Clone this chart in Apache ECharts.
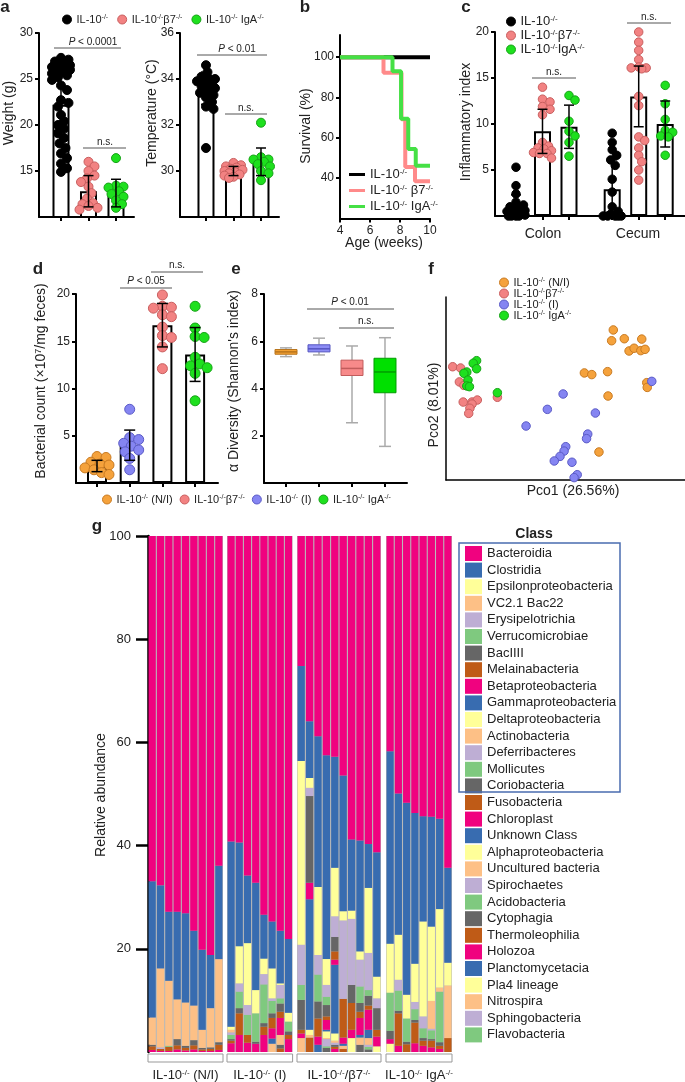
<!DOCTYPE html>
<html><head><meta charset="utf-8">
<script src="https://cdn.jsdelivr.net/npm/echarts@6/dist/echarts.min.js"></script>
<style>html,body{margin:0;padding:0;background:#fff}#c{width:685px;height:1082px}</style>
</head><body><div id="c"></div>
<script>
// ================= DATA =================
// panel a
const groupsA = ['IL-10^-/-^', 'IL-10^-/-^β7^-/-^', 'IL-10^-/-^ IgA^-/-^'];
const weightMeans = [22.2, 12.8, 12.6];
const weightSD = [4.0, 1.7, 1.5];
const weightWT = [27.3, 27.1, 26.9, 26.8, 26.5, 26.4, 26.3, 26.2, 26.1, 26.0, 25.8, 25.6, 25.4, 25.2, 24.9, 24.3, 23.8, 22.7, 22.4, 22.0, 21.1, 20.4, 20.0, 19.6, 19.1, 18.6, 18.0, 17.5, 16.9, 16.4, 15.8, 15.3, 14.9];
const weightB7 = [16.0, 15.5, 15.0, 14.5, 14.2, 13.8, 13.3, 12.6, 12.0, 11.5, 11.4, 11.2, 11.0, 10.8];
const weightIgA = [16.4, 13.4, 13.3, 13.2, 12.8, 12.5, 12.2, 11.8, 11.4, 11.0];
const tempMeans = [33.6, 30.0, 30.4];
const tempSD = [0.7, 0.2, 0.6];
const tempWT = [34.6, 34.3, 34.1, 34.0, 34.0, 33.9, 33.9, 33.8, 33.8, 33.7, 33.6, 33.5, 33.4, 33.3, 33.2, 33.0, 32.8, 32.7, 31.0];
const tempB7 = [30.35, 30.25, 30.2, 30.15, 30.1, 30.05, 30.0, 29.95, 29.9, 29.85, 29.8, 29.75, 29.7];
const tempIgA = [32.1, 30.6, 30.5, 30.5, 30.4, 30.3, 30.2, 30.0, 29.9, 29.6];
// panel b (survival, step curves)
const survNames = ['IL-10^-/-^', 'IL-10^-/-^ β7^-/-^', 'IL-10^-/-^ IgA^-/-^'];
const survWeeksWT = [4, 10];
const survWT = [100, 100];
const survWeeksB7 = [4, 6.9, 8.1, 8.35, 9.0, 10];
const survB7 = [100, 92.3, 69.2, 45.5, 38.5, 38.5];
const survWeeksIgA = [4, 7.5, 8.07, 8.55, 9.05, 10];
const survIgA = [100, 93.0, 69.5, 54.5, 46.2, 46.2];
// panel c
const cNames = ['IL-10^-/-^', 'IL-10^-/-^β7^-/-^', 'IL-10^-/-^IgA^-/-^'];
const tissues = ['Colon', 'Cecum'];
const colonMeans = [0.9, 9.2, 9.7];
const colonSD = [1.4, 2.4, 2.35];
const cecumMeans = [2.9, 13.0, 10.0];
const cecumSD = [3.2, 3.3, 2.5];
const colonWT = [5.3, 3.3, 2.4, 1.5, 1.2, 1.0, 0.8, 0.6, 0.5, 0.3, 0.2, 0.1, 0, 0, 0, 0];
const colonB7 = [14.0, 12.7, 12.4, 11.9, 11.6, 11.0, 8.0, 7.6, 7.4, 7.3, 7.1, 6.9, 6.8, 6.8, 6.3];
const colonIgA = [13.1, 12.6, 10.3, 9.2, 8.7, 8.0, 6.5];
const cecumWT = [9.0, 8.0, 7.2, 6.6, 6.1, 5.5, 4.0, 2.6, 1.0, 0.5, 0.2, 0, 0, 0, 0, 0];
const cecumB7 = [20.0, 18.9, 18.0, 17.0, 16.2, 16.1, 16.1, 16.0, 13.0, 12.0, 8.6, 8.2, 7.4, 6.6, 5.9, 5.0, 3.9];
const cecumIgA = [14.2, 12.2, 10.5, 9.3, 9.1, 8.7, 8.6, 6.6];
// panel d (order on axis: N/I, I, β7, IgA)
const dNames = ['IL-10^-/-^ (N/I)', 'IL-10^-/-^ (I)', 'IL-10^-/-^β7^-/-^', 'IL-10^-/-^ IgA^-/-^'];
const countMeans = [1.8, 4.0, 16.7, 13.6];
const countSD = [0.6, 1.6, 2.3, 2.85];
const countNI = [2.8, 2.7, 2.2, 2.0, 1.9, 1.6, 1.4, 1.1, 0.9];
const countI = [7.8, 4.8, 4.6, 4.2, 3.9, 3.5, 3.3, 2.6, 1.4];
const countB7 = [19.9, 18.7, 18.6, 18.5, 17.8, 17.6, 16.5, 15.6, 15.4, 14.4, 12.1];
const countIgA = [18.7, 16.4, 15.5, 15.4, 13.3, 12.6, 12.4, 12.2, 11.6, 8.7];
// panel e : [min, q1, median, q3, max]
const shannonBoxes = [[5.35, 5.45, 5.55, 5.65, 5.72], [5.42, 5.55, 5.68, 5.85, 6.13], [2.55, 4.55, 4.85, 5.2, 5.8], [1.55, 3.82, 4.7, 5.28, 6.15]];
// panel f (PCo1, PCo2 scores, relative units)
const pcoNI = [[70.0,82.0],[69.3,76.1],[74.6,77.2],[81.9,77.0],[76.6,70.5],[78.7,72.0],[81.5,70.7],[83.3,71.4],[57.9,58.5],[61.0,57.6],[67.6,59.2],[84.0,53.2],[84.2,50.6],[67.8,45.9],[64.0,15.3]];
const pcoB7 = [[2.8,61.9],[6.1,61.2],[5.6,53.6],[7.5,51.7],[7.2,42.6],[10.9,42.6],[13.1,43.7],[10.9,41.5],[10.0,39.2],[9.5,36.4],[21.5,45.2]];
const pcoI = [[86.1,53.9],[49.0,47.0],[42.4,38.6],[62.5,36.6],[33.5,29.5],[59.3,25.1],[58.8,22.6],[50.1,18.2],[49.4,15.8],[47.7,12.9],[45.3,10.4],[52.7,9.7],[54.9,2.9],[53.6,1.3]];
const pcoIgA = [[12.8,65.2],[11.4,63.8],[12.8,60.8],[8.7,59.0],[7.5,58.3],[9.2,54.6],[8.7,51.4],[9.8,51.0],[21.5,47.7]];
// panel g
const gGroupLabels = ['IL-10^-/-^ (N/I)', 'IL-10^-/-^ (I)', 'IL-10^-/-^/β7^-/-^', 'IL-10^-/-^ IgA^-/-^'];
const gGroupSizes = [9, 8, 10, 8];
const classNames = ['Bacteroidia','Clostridia','Epsilonproteobacteria','VC2.1 Bac22','Erysipelotrichia','Verrucomicrobiae','BacIIII','Melainabacteria','Betaproteobacteria','Gammaproteobacteria','Deltaproteobacteria','Actinobacteria','Deferribacteres','Mollicutes','Coriobacteria','Fusobacteria','Chloroplast','Unknown Class','Alphaproteobacteria','Uncultured bacteria','Spirochaetes','Acidobacteria','Cytophagia','Thermoleophilia','Holozoa','Planctomycetacia','Pla4 lineage','Nitrospira','Sphingobacteria','Flavobacteria'];
const accent = ['#f0027f','#386cb0','#ffff99','#fdc086','#beaed4','#7fc97f','#666666','#bf5b17'];
// relative abundance (%) per class, 35 samples: N/I(9) | I(8) | β7(10) | IgA(8)
const abBacteroidia = [66.9,67.7,72.8,72.8,73.1,76.5,80.2,81.2,63.9, 59.2,59.4,65.8,67.2,73.4,74.7,76.5,78.1, 25.2,35.9,38.8,42.5,42.8,46.4,58.8,59.0,59.7,61.3, 41.7,49.9,51.7,53.7,54.3,54.4,54.8,64.3];
const abClostridia = [26.4,16.1,13.4,17.0,17.3,14.5,15.5,10.3,18.1, 35.9,20.1,13.1,20.8,8.5,9.1,10.2,14.3, 18.4,11.0,29.2,39.5,21.5,26.3,13.8,21.5,8.5,24.1, 37.3,27.4,37.2,29.2,20.4,21.3,17.5,18.4];
const abEpsilon = [0,0,0,0,0,0,0,0,0, 0.6,7.2,12.0,4.5,3.0,5.8,0.3,1.7, 35.6,1.9,13.2,5.0,9.4,1.8,1.6,1.6,12.6,4.2, 9.5,8.7,4.6,7.4,18.4,14.4,15.2,4.4];
const abVC21 = [5.3,15.3,12.6,7.7,8.4,6.7,3.5,7.6,16.1, 0.5,0,0,0,0,0,0,0, 0,0,0,0,0,0,0,0,0,0, 0,0,0,0,0,5.4,0.8,10.2];
const abErysipelotrichia = [0,0.3,0,0,0,0,0,0,0, 0.5,1.6,1.9,0,2.0,0.5,2.6,0, 7.8,1.6,3.8,2.3,4.0,15.2,12.8,5.2,7.2,1.9, 0,2.1,0,1.4,2.3,0.3,0,0];
const abVerrucomicrobiae = [0,0,0.2,0,0,0,0,0,0, 0.8,3.2,3.9,5.5,7.5,2.4,1.0,1.9, 2.9,0,5.2,1.6,0,0,0,3.2,1.1,0, 7.4,3.9,4.5,2.1,1.9,1.7,9.8,0];
const abBacIIII = [0.3,0,0,1.2,0.4,1.0,0.3,0.3,0.5, 0.3,1.0,0,0.4,0.7,0.9,1.6,0.7, 5.8,16.8,3.3,2.2,2.8,0,3.5,1.7,1.9,4.2, 1.6,0.5,0.5,0.5,0.5,0.3,0.7,0];
const abMelainabacteria = [0.7,0.4,0.8,0.8,0.5,0.8,0.3,0.4,1.0, 0.5,4.2,1.5,0,1.6,2.0,1.2,0.8, 0.7,0,3.5,0.7,1.6,7.5,5.2,1.2,0.8,1.3, 0,6.3,1.5,4.0,1.0,1.3,0.6,2.7];
const abBeta = [0.4,0.2,0.2,0.5,0.3,0.5,0.2,0.2,0.4, 1.7,3.3,1.8,1.6,3.3,2.0,3.3,2.5, 0.9,3.2,1.6,1.9,1.0,1.2,1.6,3.3,3.9,1.9, 0.9,1.2,0,1.7,1.2,0.9,0.6,0];
const abGamma = [0,0,0,0,0,0,0,0,0, 0,0,0,0,0,1.0,0,0, 0,25.3,1.4,0.3,13.3,0.4,0,0.5,1.6,0, 0,0,0,0,0,0,0,0];
const abDelta = [0,0,0,0,0,0,0,0,0, 0,0,0,0,0,0,0,0, 0,1.0,0,1.3,1.4,0,2.7,0,0,1.1, 1.6,0,0,0,0,0,0,0];
const abActino = [0,0,0,0,0,0,0,0,0, 0,0,0,0,0,1.6,1.9,0, 2.7,0.5,0,0.2,0.4,0.6,0,1.4,1.3,0, 0,0,0,0,0,0,0,0];
const abDeferri = [0,0,0,0,0,0,0,0,0, 0,0,0,0,0,0,0,0, 0,0,0,1.4,0.4,0,0,0,0.4,0, 0,0,0,0,0,0,0,0];
const abMollicutes = [0,0,0,0,0,0,0,0,0, 0,0,0,0,0,0,0,0, 0,0,0,0.3,0,0,0,0,0.5,0, 0,0,0,0,0,0,0,0];
const abCorio = [0,0,0,0,0,0,0,0,0, 0,0,0,0,0,0,0.7,0, 0,0,0,0.8,0.4,0,0,1.4,0.5,0, 0,0,0,0,0,0,0,0];
const abFuso = [0,0,0,0,0,0,0,0,0, 0,0,0,0,0,0,0.7,0, 0,2.8,0,0,0.4,0.6,0,0,0,0, 0,0,0,0,0,0,0,0];
const abChloro = [0,0,0,0,0,0,0,0,0, 0,0,0,0,0,0,0,0, 0,0,0,0,0.6,0,0,0,0,0, 0,0,0,0,0,0,0,0];
const abAbsent = [0,0,0,0,0,0,0,0,0, 0,0,0,0,0,0,0,0, 0,0,0,0,0,0,0,0,0,0, 0,0,0,0,0,0,0,0];
const abundance = [abBacteroidia, abClostridia, abEpsilon, abVC21, abErysipelotrichia, abVerrucomicrobiae, abBacIIII, abMelainabacteria, abBeta, abGamma, abDelta, abActino, abDeferri, abMollicutes, abCorio, abFuso, abChloro,
  abAbsent, abAbsent, abAbsent, abAbsent, abAbsent, abAbsent, abAbsent, abAbsent, abAbsent, abAbsent, abAbsent, abAbsent, abAbsent];

// ================= STYLE / LAYOUT =================
const FF = '"Liberation Sans", Arial, Helvetica, sans-serif';
const TXT = '#222';
function R(s){ return s.replace(/\^(.*?)\^/g, '{s|$1}').replace(/\*(.*?)\*/g, '{i|$1}'); }
function RICH(fs){ return { s:{fontSize:Math.round(fs*0.62), fontFamily:FF, color:TXT, verticalAlign:'top', lineHeight:Math.round(fs*0.62)}, i:{fontSize:fs, fontFamily:FF, color:TXT, fontStyle:'italic'} }; }
const COL = {
  wt:{fill:'#000000', stroke:'#000000'},
  b7:{fill:'#f28282', stroke:'#c95f5f'},
  iga:{fill:'#1ee01e', stroke:'#17a317'},
  ni:{fill:'#f5a23c', stroke:'#c97b22'},
  i:{fill:'#8585f2', stroke:'#5b5bc6'}
};
const L = {
  a1:{left:39, top:33, width:95, height:184, ymin:10, ymax:30, xmin:0.2, xmax:3.655},
  a2:{left:180, top:33, width:99, height:184, ymin:28, ymax:36, xmin:0.055, xmax:3.655},
  b:{left:340, top:35, width:90, height:183.5, ymin:20, ymax:111, xmin:4, xmax:10},
  c:{left:495, top:32, width:190, height:184, ymin:0, ymax:20, xmin:0.208, xmax:7.377},
  d:{left:76, top:294, width:142, height:189, ymin:0, ymax:20, xmin:0.358, xmax:4.70},
  e:{left:264, top:294, width:143, height:189, ymin:0, ymax:8, xmin:0.333, xmax:4.667},
  f:{left:446, top:297, width:239, height:183, ymin:0, ymax:100, xmin:0, xmax:100}
};
const gLefts = [148, 227, 297, 386], gWidths = [75, 65.6, 84, 66], gTop = 536, gHeight = 516;
const cXs = [1, 2, 3, 4.63, 5.63, 6.63];

function ppu(k){ return L[k].height / (L[k].ymax - L[k].ymin); }

function swarm(vals, pu, d, maxDx){
  const order = vals.map((v,i)=>i).sort((a,b)=>vals[b]-vals[a]);
  const placed = [], out = [];
  for (const i of order){
    const y = vals[i]*pu; let best = 0, bestScore = -1;
    for (let k=0; k<80; k++){
      const cand = (k%2 ? 1 : -1) * Math.ceil(k/2) * 1.5;
      if (Math.abs(cand) > maxDx) break;
      let minD = Infinity;
      for (const p of placed) minD = Math.min(minD, Math.hypot(p.x-cand, p.y-y));
      if (minD >= d){ best = cand; break; }
      if (minD > bestScore){ bestScore = minD; best = cand; }
    }
    placed.push({x:best, y}); out[i] = best;
  }
  return out;
}

const grids = [], xAxes = [], yAxes = [], series = [];
function addGrid(k){
  const g = L[k]; grids.push({left:g.left, top:g.top, width:g.width, height:g.height, containLabel:false});
  return grids.length - 1;
}
function vAxis(gi, min, max, ticks, o){
  o = o || {};
  return { type:'value', gridIndex:gi, min, max, scale:false,
    axisLine:{show:o.line!==false, onZero:false, lineStyle:{color:'#000', width:o.lw||2}},
    axisTick:{show:ticks.length>0, customValues:ticks, length:o.tl||4, lineStyle:{color:'#000', width:o.lw||2}},
    axisLabel:{show:!!o.labels, customValues:ticks, color:TXT, fontSize:o.fs||12, fontFamily:FF, margin:o.margin||6},
    splitLine:{show:false} };
}

function barSeries(gi, xs, means, w){
  return {type:'bar', xAxisIndex:gi, yAxisIndex:gi, z:2, barWidth:w, silent:true,
    itemStyle:{color:'#fff', borderColor:'#000', borderWidth:2},
    data: means.map((m,i)=>[xs[i], m])};
}
function dotSeries(gi, name, cols, color, size, pu, half){
  const data = [];
  cols.forEach(c => {
    const offs = swarm(c.vals, pu, size*0.78, half);
    c.vals.forEach((v,k)=>data.push({value:[c.x, v], symbolOffset:[offs[k], 0]}));
  });
  return {type:'scatter', name, xAxisIndex:gi, yAxisIndex:gi, z:3, symbolSize:size, silent:true,
    itemStyle:{color:color.fill, borderColor:color.stroke, borderWidth:1, opacity:1}, data};
}
function errSeries(gi, xs, means, sds, cap){
  return {type:'custom', xAxisIndex:gi, yAxisIndex:gi, z:4, clip:true, silent:true,
    data: means.map((m,i)=>[xs[i], m - sds[i], m + sds[i]]), encode:{x:0, y:[1,2]},
    renderItem:(p, api)=>{
      const x = api.value(0); const a = api.coord([x, api.value(1)]), b = api.coord([x, api.value(2)]);
      const st = {stroke:'#000', lineWidth:1.5};
      return {type:'group', children:[
        {type:'line', shape:{x1:a[0], y1:a[1], x2:b[0], y2:b[1]}, style:st},
        {type:'line', shape:{x1:a[0]-cap, y1:a[1], x2:a[0]+cap, y2:a[1]}, style:st},
        {type:'line', shape:{x1:b[0]-cap, y1:b[1], x2:b[0]+cap, y2:b[1]}, style:st}]};
    }};
}

// ---- a1 weight
let gi = addGrid('a1');
xAxes.push(vAxis(gi, L.a1.xmin, L.a1.xmax, [1,2,3]));
yAxes.push(vAxis(gi, 10, 30, [15,20,25,30], {labels:true}));
series.push(barSeries(gi, [1,2,3], weightMeans, 17));
[[weightWT,COL.wt],[weightB7,COL.b7],[weightIgA,COL.iga]].forEach((d,k)=>series.push(dotSeries(gi, 'a:'+groupsA[k], [{x:k+1, vals:d[0]}], d[1], 9, ppu('a1'), 10)));
series.push(errSeries(gi, [1,2,3], weightMeans, weightSD, 5));
// ---- a2 temperature
gi = addGrid('a2');
xAxes.push(vAxis(gi, L.a2.xmin, L.a2.xmax, [1,2,3]));
yAxes.push(vAxis(gi, 28, 36, [30,32,34,36], {labels:true}));
series.push(barSeries(gi, [1,2,3], tempMeans, 17));
[[tempWT,COL.wt],[tempB7,COL.b7],[tempIgA,COL.iga]].forEach((d,k)=>series.push(dotSeries(gi, 'a:'+groupsA[k], [{x:k+1, vals:d[0]}], d[1], 9, ppu('a2'), 10)));
series.push(errSeries(gi, [1,2,3], tempMeans, tempSD, 5));
// ---- b survival
gi = addGrid('b');
xAxes.push(Object.assign(vAxis(gi, 4, 10, [4,6,8,10], {labels:true}), {interval:2}));
yAxes.push(vAxis(gi, 20, 111, [40,60,80,100], {labels:true}));
const survCols = ['#000000', '#ff8a8a', '#45e045'];
[[survWeeksWT,survWT],[survWeeksB7,survB7],[survWeeksIgA,survIgA]].forEach((s,k)=>{
  series.push({type:'line', name:'b:'+survNames[k], xAxisIndex:gi, yAxisIndex:gi, step:'end', showSymbol:false, symbol:'none', z:3+k, silent:true,
    lineStyle:{color:survCols[k], width:4}, itemStyle:{color:survCols[k]},
    data: s[0].map((w,i)=>[w, s[1][i]])});
});
// ---- c inflammatory index
gi = addGrid('c');
xAxes.push(vAxis(gi, L.c.xmin, L.c.xmax, cXs));
yAxes.push(vAxis(gi, 0, 20, [5,10,15,20], {labels:true}));
series.push(barSeries(gi, cXs, colonMeans.concat(cecumMeans), 17));
[[colonWT,cecumWT,COL.wt],[colonB7,cecumB7,COL.b7],[colonIgA,cecumIgA,COL.iga]].forEach((d,k)=>series.push(dotSeries(gi, 'c:'+cNames[k], [{x:cXs[k], vals:d[0]},{x:cXs[3+k], vals:d[1]}], d[2], 8.5, ppu('c'), 10)));
series.push(errSeries(gi, cXs, colonMeans.concat(cecumMeans), colonSD.concat(cecumSD), 5));
// ---- d bacterial count
gi = addGrid('d');
xAxes.push(vAxis(gi, L.d.xmin, L.d.xmax, [1,2,3,4]));
yAxes.push(vAxis(gi, 0, 20, [5,10,15,20], {labels:true}));
series.push(barSeries(gi, [1,2,3,4], countMeans, 20));
[[countNI,COL.ni],[countI,COL.i],[countB7,COL.b7],[countIgA,COL.iga]].forEach((d,k)=>series.push(dotSeries(gi, 'd:'+dNames[k], [{x:k+1, vals:d[0]}], d[1], 10, ppu('d'), 12)));
series.push(errSeries(gi, [1,2,3,4], countMeans, countSD, 5.5));
// ---- e shannon boxplots
gi = addGrid('e');
xAxes.push(vAxis(gi, L.e.xmin, L.e.xmax, [1,2,3,4]));
yAxes.push(vAxis(gi, 0, 8, [2,4,6,8], {labels:true}));
const boxFill = ['#f5a233', '#8c8cf5', '#f78a8a', '#00e000'];
const boxStroke = ['#b8741c', '#5555c0', '#c25c5c', '#009c00'];
series.push({type:'custom', xAxisIndex:gi, yAxisIndex:gi, z:3, silent:true,
  data: shannonBoxes.map((b,i)=>[i+1].concat(b)), encode:{x:0, y:[1,2,3,4,5]},
  renderItem:(p, api)=>{
    const x = api.value(0); const pt = [1,2,3,4,5].map(k=>api.coord([x, api.value(k)]));
    const cx = pt[0][0], hw = 11, cw = 6, i = p.dataIndex;
    const g = {stroke:'#aaaaaa', lineWidth:1.5};
    return {type:'group', children:[
      {type:'line', shape:{x1:cx, y1:pt[0][1], x2:cx, y2:pt[1][1]}, style:g},
      {type:'line', shape:{x1:cx, y1:pt[3][1], x2:cx, y2:pt[4][1]}, style:g},
      {type:'line', shape:{x1:cx-cw, y1:pt[0][1], x2:cx+cw, y2:pt[0][1]}, style:g},
      {type:'line', shape:{x1:cx-cw, y1:pt[4][1], x2:cx+cw, y2:pt[4][1]}, style:g},
      {type:'rect', shape:{x:cx-hw, y:pt[3][1], width:2*hw, height:pt[1][1]-pt[3][1]}, style:{fill:boxFill[i], stroke:boxStroke[i], lineWidth:1}},
      {type:'line', shape:{x1:cx-hw, y1:pt[2][1], x2:cx+hw, y2:pt[2][1]}, style:{stroke:boxStroke[i], lineWidth:1.5}}]};
  }});
// ---- f PCoA
gi = addGrid('f');
xAxes.push(vAxis(gi, 0, 100, [], {lw:1.5}));
yAxes.push(vAxis(gi, 0, 100, [], {lw:1.5}));
const fNames = ['IL-10^-/-^ (N/I)', 'IL-10^-/-^β7^-/-^', 'IL-10^-/-^ (I)', 'IL-10^-/-^ IgA^-/-^'];
[[pcoNI,COL.ni],[pcoB7,COL.b7],[pcoI,COL.i],[pcoIgA,COL.iga]].forEach((d,k)=>series.push({type:'scatter', name:'f:'+fNames[k], xAxisIndex:gi, yAxisIndex:gi, z:3+k, symbolSize:8.5, silent:true,
  itemStyle:{color:d[1].fill, borderColor:d[1].stroke, borderWidth:1, opacity:1}, data:d[0]}));
// ---- g stacked bars
let start = 0;
gGroupSizes.forEach((n, j)=>{
  grids.push({left:gLefts[j], top:gTop, width:gWidths[j], height:gHeight, show:true, backgroundColor:'#b9b9b9', borderWidth:0});
  const gIdx = grids.length - 1;
  const cats = []; for (let q=0; q<n; q++) cats.push(gGroupLabels[j] + ' #' + (q+1));
  xAxes.push({type:'category', gridIndex:gIdx, data:cats, show:false});
  if (j === 0) {
    yAxes.push({type:'value', gridIndex:gIdx, min:0, max:100,
      axisLine:{show:true, lineStyle:{color:'#000', width:2.5}},
      axisTick:{show:true, customValues:[20,40,60,80,100], length:12, lineStyle:{color:'#000', width:2.5}},
      axisLabel:{show:true, customValues:[20,40,60,80,100], color:TXT, fontSize:13, fontFamily:FF, margin:17},
      splitLine:{show:false}});
  } else {
    yAxes.push({type:'value', gridIndex:gIdx, min:0, max:100, show:false, splitLine:{show:false}});
  }
  for (let c = classNames.length - 1; c >= 0; c--) {
    series.push({type:'bar', name:classNames[c], xAxisIndex:gIdx, yAxisIndex:gIdx, stack:'g'+j, barCategoryGap:'13%', silent:true,
      itemStyle:{color:accent[c % 8]}, data: abundance[c].slice(start, start + n)});
  }
  start += n;
});

// ================= LEGENDS =================
const legFmt = n => R(n.replace(/^[a-z]:/, ''));
const aCols = [COL.wt, COL.b7, COL.iga];
const legends = [
  {data: groupsA.map((n,k)=>({name:'a:'+n, icon:'circle', itemStyle:{color:aCols[k].fill, borderColor:aCols[k].stroke, borderWidth:1}})),
    left:57, top:9, itemWidth:9, itemHeight:9, itemGap:9, formatter:legFmt, selectedMode:false,
    textStyle:{fontSize:11, fontFamily:FF, color:TXT, rich:RICH(11)}},
  {data: survNames.map((n,k)=>({name:'b:'+n, icon:'rect', itemStyle:{color:survCols[k]}})), orient:'vertical',
    left:344, top:163, itemWidth:16, itemHeight:3, itemGap:3, formatter:legFmt, selectedMode:false,
    textStyle:{fontSize:13, fontFamily:FF, color:TXT, rich:RICH(13)}},
  {data: cNames.map((n,k)=>({name:'c:'+n, icon:'circle', itemStyle:{color:aCols[k].fill, borderColor:aCols[k].stroke, borderWidth:1}})), orient:'vertical',
    left:501, top:10, itemWidth:9, itemHeight:9, itemGap:1, formatter:legFmt, selectedMode:false,
    textStyle:{fontSize:13, fontFamily:FF, color:TXT, rich:RICH(13)}},
  {data: [0,2,1,3].map(k=>({name:'d:'+dNames[k], icon:'circle', itemStyle:{color:[COL.ni,COL.i,COL.b7,COL.iga][k].fill, borderColor:[COL.ni,COL.i,COL.b7,COL.iga][k].stroke, borderWidth:1}})),
    left:97, top:489, itemWidth:9, itemHeight:9, itemGap:7, formatter:legFmt, selectedMode:false,
    textStyle:{fontSize:11, fontFamily:FF, color:TXT, rich:RICH(11)}},
  {data: fNames.map((n,k)=>({name:'f:'+n, icon:'circle', itemStyle:{color:[COL.ni,COL.b7,COL.i,COL.iga][k].fill, borderColor:[COL.ni,COL.b7,COL.i,COL.iga][k].stroke, borderWidth:1}})), orient:'vertical',
    left:494, top:272, itemWidth:9, itemHeight:9, itemGap:0, formatter:legFmt, selectedMode:false,
    textStyle:{fontSize:11, fontFamily:FF, color:TXT, rich:RICH(11)}},
  {data: classNames, orient:'vertical', left:460, top:541, icon:'rect', itemWidth:17, itemHeight:15, itemGap:1.6, selectedMode:false,
    textStyle:{fontSize:13, fontFamily:FF, color:TXT}}
];

// ================= ANNOTATIONS =================
function T(x, y, str, fs, o){
  o = o || {};
  return {type:'text', x, y, rotation:o.rot||0, z:100, silent:true,
    style:{text:R(str), fontSize:fs, fontFamily:FF, fill:o.color||TXT, fontWeight:o.bold?'bold':'normal',
      align:o.align||'center', verticalAlign:'middle', rich:RICH(fs)}};
}
function Ln(x1, y1, x2, y2, c, w){ return {type:'line', z:100, silent:true, shape:{x1,y1,x2,y2}, style:{stroke:c||'#555', lineWidth:w||1}}; }
const ROT = Math.PI/2;
const gfx = [
  T(5,7,'a',17,{bold:true}), T(305,7,'b',17,{bold:true}), T(466,7,'c',17,{bold:true}),
  T(38,269,'d',17,{bold:true}), T(236,269,'e',17,{bold:true}), T(431,269,'f',17,{bold:true}), T(97,526,'g',17,{bold:true}),
  T(9,113,'Weight (g)',14,{rot:ROT}), T(152,113,'Temperature (°C)',14,{rot:ROT}),
  T(306,126,'Survival (%)',14,{rot:ROT}), T(384,243,'Age (weeks)',14),
  T(466,122,'Inflammatory index',14,{rot:ROT}), T(543,234,'Colon',14), T(638,234,'Cecum',14),
  T(41,381,'Bacterial count (×10^7^/mg feces)',14,{rot:ROT}),
  T(234,381,'α Diversity (Shannon\'s index)',14,{rot:ROT}),
  T(434,405,'Pco2 (8.01%)',14,{rot:ROT}), T(573,491,'Pco1 (26.56%)',14),
  T(101,795,'Relative abundance',14,{rot:ROT}),
  // significance brackets
  T(93,42,'*P* < 0.0001',10), Ln(54,48,121,48), T(105,142,'n.s.',10), Ln(83,148,126,148),
  T(237,49,'*P* < 0.01',10), Ln(197,55,267,55), T(246,108,'n.s.',10), Ln(225,114,267,114),
  T(554,72,'n.s.',10), Ln(532,78,576,78), T(649,17,'n.s.',10), Ln(627,23,671,23),
  T(146,281,'*P* < 0.05',10), Ln(120,288,172,288), T(177,265,'n.s.',10), Ln(151,272,203,272),
  T(350,302,'*P* < 0.01',10), Ln(307,309,394,309), T(366,321,'n.s.',10), Ln(339,328,394,328),
  // legend box for class
  {type:'rect', z:100, silent:true, shape:{x:459, y:543, width:161, height:249}, style:{fill:'none', stroke:'#4a6cb0', lineWidth:1.5}},
  T(534,534,'Class',14,{bold:true})
];
gLefts.forEach((l, j)=>{
  gfx.push({type:'rect', z:100, silent:true, shape:{x:l, y:1054, width:gWidths[j], height:8}, style:{fill:'#fff', stroke:'#999', lineWidth:1}});
  gfx.push(T(l + gWidths[j]/2, 1075, gGroupLabels[j], 13));
});

const chart = echarts.init(document.getElementById('c'), null, {renderer:'canvas', width:685, height:1082});
chart.setOption({
  animation:false, backgroundColor:'#fff',
  textStyle:{fontFamily:FF},
  grid:grids, xAxis:xAxes, yAxis:yAxes, series, legend:legends, graphic:gfx
});
</script></body></html>
